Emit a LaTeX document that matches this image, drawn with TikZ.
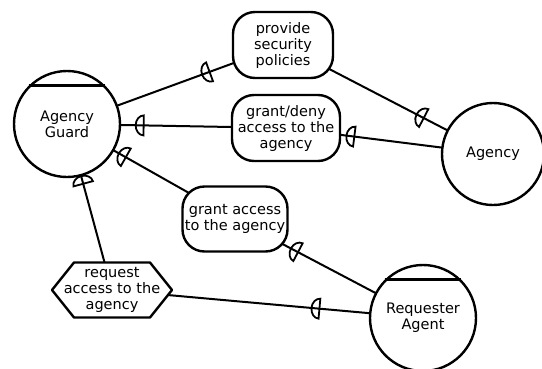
\documentclass[tikz,border=0pt]{standalone}
\usepackage{fontspec}
\setmainfont{DejaVu Sans}
\usetikzlibrary{backgrounds,decorations.markings}

\begin{document}
\begin{tikzpicture}[x=1pt, y=-1pt,
    every node/.style={font=\fontsize{14.5}{16}\selectfont, align=center},
    anode/.style={draw,circle,fill=white,line width=2.4pt,minimum size=#1,inner sep=0pt},
    gnode/.style={draw,rectangle,rounded corners=22pt,fill=white,line width=2.4pt,minimum width=#1,minimum height=66pt,inner sep=1pt},
    tnode/.style={rectangle,minimum width=118pt,minimum height=55pt,inner sep=1pt},
    hexa/.style={draw,fill=white,line width=2.4pt,line join=round},
    bar/.style={line width=2.8pt},
    dlink/.style={line width=2pt, postaction={decorate}, decoration={markings, mark=at position #1 with {\draw[line width=1.8pt] (0pt,-10pt) -- (0pt,10pt) arc[start angle=90, end angle=-90, x radius=8pt, y radius=10pt] -- cycle;}}}]
    \useasboundingbox (0,0) rectangle (542,368);

    % actors
    \node[anode=106pt] (guard) at (67,124) {Agency\\Guard};
    \node[anode=102pt] (agency) at (493,154) {Agency};
    \node[anode=106pt] (req) at (423,318) {Requester\\Agent};
    \draw[bar] (guard.135) -- (guard.45);
    \draw[bar] (req.135) -- (req.45);

    % dependums
    \node[gnode=100pt] (provide) at (283,45) {provide\\security\\policies};
    \node[gnode=108pt] (deny) at (286,128) {grant/deny\\access to the\\agency};
    \node[gnode=105pt, minimum height=65pt] (grant) at (235,219) {grant access\\to the agency};
    \draw[hexa] (112,290) ++(-60,0) -- ++(22,-27.5) -- ++(76,0) -- ++(22,27.5) -- ++(-22,27.5) -- ++(-76,0) -- cycle;
    \node[tnode] (task) at (112,290) {request\\access to the\\agency};

    % dependency links
    \begin{scope}[on background layer]
    \draw[dlink=0.33] (agency.center) -- (provide.center);
    \draw[dlink=0.34] (provide.center) -- (guard.center);
    \draw[dlink=0.67] (agency.center) -- (deny.center);
    \draw[dlink=0.65] (deny.center) -- (guard.center);
    \draw[dlink=0.665] (req.center) -- (grant.center);
    \draw[dlink=0.65] (grant.center) -- (guard.center);
    \draw[dlink=0.333] (req.center) -- (task.center);
    \draw[dlink=0.64] (task.center) -- (guard.center);
    \end{scope}
\end{tikzpicture}
\end{document}
